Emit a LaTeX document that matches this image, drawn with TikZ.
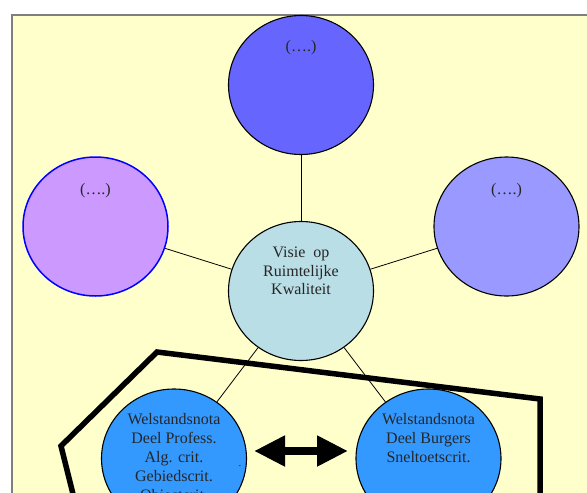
\documentclass[tikz,border=0pt]{standalone}
\usepackage{fontspec}
\setmainfont{Liberation Serif}
\usetikzlibrary{shapes.geometric,arrows.meta}
\definecolor{bgyellow}{HTML}{FFFFCC}
\definecolor{topblue}{HTML}{6666FF}
\definecolor{lilac}{HTML}{CC99FF}
\definecolor{periwinkle}{HTML}{9999FF}
\definecolor{paleblue}{HTML}{B9DEE6}
\definecolor{skyblue}{HTML}{3399FF}
\definecolor{framegray}{HTML}{7F7F7F}
\tikzset{
  bubble/.style={ellipse, draw=black, line width=1.1pt, minimum width=145pt, minimum height=139pt, inner sep=0pt},
  lbl/.style={font=\fontsize{16}{19}\selectfont, align=center, inner sep=0pt, anchor=north, text=black!85},
  link/.style={draw=black, line width=0.8pt},
  thickline/.style={draw=black, line width=5.5pt, line join=miter},
  dbl/.style={line width=8pt, {Triangle[length=31pt,width=29pt]}-{Triangle[length=31pt,width=29pt]}}
}
\begin{document}
\begin{tikzpicture}[x=1pt,y=-1pt]
\useasboundingbox (0,0) rectangle (587,493);
\fill[white] (0,0) rectangle (587,493);
\filldraw[fill=bgyellow, draw=framegray, line width=1.2pt] (12,15) rectangle (605,515);

\node[bubble, fill=topblue] (top) at (301,85) {};
\node[bubble, fill=lilac, draw=blue, line width=1.5pt] (left) at (95.5,226.5) {};
\node[bubble, fill=periwinkle] (right) at (506.5,226.5) {};
\node[bubble, fill=paleblue] (ctr) at (301,291) {};
\node[bubble, fill=skyblue] (pro) at (174,458.5) {};
\node[bubble, fill=skyblue] (bur) at (428.5,458.5) {};

\draw[link] (top) -- (ctr);
\draw[link] (left) -- (ctr);
\draw[link] (right) -- (ctr);
\draw[link] (ctr) -- (pro);
\draw[link] (ctr) -- (bur);

\node[lbl] (ttop) at (301,40) {(….)};
\node[lbl] (tleft) at (95.5,183) {(….)};
\node[lbl] (tright) at (506.5,183) {(….)};
\node[lbl, font=\fontsize{16}{18.5}\selectfont] (tctr) at (301,247) {Visie\ \ op\\Ruimtelijke\\Kwaliteit};
\node[lbl] (tpro) at (174,413) {Welstandsnota\\Deel Profess.\\Alg. crit.\\Gebiedscrit.\\Objectcrit.};
\node[lbl] (tbur) at (428.5,413) {Welstandsnota\\Deel Burgers\\Sneltoetscrit.};
\node[font=\fontsize{9}{10}\selectfont, inner sep=0pt, anchor=base] (dot) at (240,466) {.};

\coordinate (al) at (254,451);
\coordinate (ar) at (348,451);
\draw[dbl] (al) -- (ar);

\draw[thickline] (77,510) -- (61,446) -- (157,352) -- (540,399) -- (540,510);
\end{tikzpicture}
\end{document}
